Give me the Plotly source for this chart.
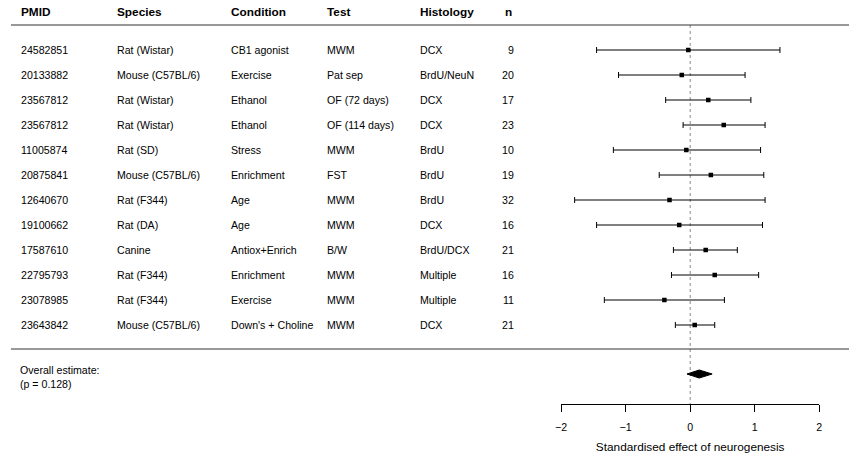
import plotly.graph_objects as go

# ---- data ----
pmid = ["24582851", "20133882", "23567812", "23567812", "11005874", "20875841",
        "12640670", "19100662", "17587610", "22795793", "23078985", "23643842"]
species = ["Rat (Wistar)", "Mouse (C57BL/6)", "Rat (Wistar)", "Rat (Wistar)", "Rat (SD)",
           "Mouse (C57BL/6)", "Rat (F344)", "Rat (DA)", "Canine", "Rat (F344)",
           "Rat (F344)", "Mouse (C57BL/6)"]
condition = ["CB1 agonist", "Exercise", "Ethanol", "Ethanol", "Stress", "Enrichment",
             "Age", "Age", "Antiox+Enrich", "Enrichment", "Exercise", "Down's + Choline"]
test = ["MWM", "Pat sep", "OF (72 days)", "OF (114 days)", "MWM", "FST",
        "MWM", "MWM", "B/W", "MWM", "MWM", "MWM"]
histology = ["DCX", "BrdU/NeuN", "DCX", "DCX", "BrdU", "BrdU",
             "BrdU", "DCX", "BrdU/DCX", "Multiple", "Multiple", "DCX"]
n = [9, 20, 17, 23, 10, 19, 32, 16, 21, 16, 11, 21]
est = [-0.03, -0.13, 0.28, 0.52, -0.06, 0.32, -0.32, -0.17, 0.24, 0.38, -0.40, 0.07]
lo = [-1.45, -1.11, -0.38, -0.11, -1.19, -0.48, -1.79, -1.45, -0.26, -0.29, -1.33, -0.23]
hi = [1.39, 0.85, 0.94, 1.16, 1.09, 1.14, 1.16, 1.12, 0.73, 1.06, 0.53, 0.38]
overall_est, overall_lo, overall_hi = 0.14, -0.05, 0.34
overall_p = 0.128
headers = ["PMID", "Species", "Condition", "Test", "Histology", "n"]
tick_vals = [-2, -1, 0, 1, 2]
tick_text = ["\u22122", "\u22121", "0", "1", "2"]
x_title = "Standardised effect of neurogenesis"

# ---- layout helpers ----
W, H = 852, 454
ROW_PX = 25.0
TOP_PX = 25.0  # header rule position
rows = list(range(1, len(pmid) + 1))
overall_row = len(pmid) + 2 - 0.04
y_top = -TOP_PX / ROW_PX
y_bot = (H - TOP_PX) / ROW_PX
axis_px = 404
axis_row = (axis_px - TOP_PX) / ROW_PX
x0_px, x1_px = 561, 822

FONT = "Liberation Sans, Arial, Helvetica, sans-serif"
col_x = [13, 110, 225, 322, 416, 502]

fig = go.Figure()

# study estimates with CIs
fig.add_trace(go.Scatter(
    x=est, y=rows, mode="markers",
    marker=dict(symbol="square", size=4.5, color="black"),
    error_x=dict(type="data", symmetric=False,
                 array=[h - e for h, e in zip(hi, est)],
                 arrayminus=[e - l for e, l in zip(est, lo)],
                 color="black", thickness=1, width=3),
    showlegend=False, hoverinfo="skip"))

# overall diamond
dh = 0.16
fig.add_trace(go.Scatter(
    x=[overall_lo, overall_est, overall_hi, overall_est, overall_lo],
    y=[overall_row, overall_row - dh, overall_row, overall_row + dh, overall_row],
    mode="lines", fill="toself", fillcolor="black",
    line=dict(color="black", width=1), showlegend=False, hoverinfo="skip"))

shapes = [
    dict(type="line", xref="paper", yref="y", x0=5 / W, x1=1, y0=0, y1=0,
         line=dict(color="#333", width=1)),
    dict(type="line", xref="paper", yref="y", x0=5 / W, x1=1,
         y0=len(pmid) + 0.96, y1=len(pmid) + 0.96,
         line=dict(color="#333", width=1)),
    dict(type="line", xref="x", yref="y", x0=0, x1=0, y0=0, y1=axis_row,
         line=dict(color="#888", width=1, dash="dot"), layer="below"),
]

annotations = []
for cx, htxt in zip(col_x, headers):
    annotations.append(dict(xref="paper", yref="y", x=cx / W, y=-0.52, text="<b>%s</b>" % htxt,
                            showarrow=False, xanchor="left", yanchor="middle",
                            font=dict(family=FONT, size=11.8, color="black")))
cols = [pmid, species, condition, test, histology]
for cx, col in zip(col_x[:5], cols):
    for r, v in zip(rows, col):
        annotations.append(dict(xref="paper", yref="y", x=cx / W, y=r, text=v,
                                showarrow=False, xanchor="left", yanchor="middle",
                                font=dict(family=FONT, size=10.6, color="black")))
for r, v in zip(rows, n):
    annotations.append(dict(xref="paper", yref="y", x=515 / W, y=r, text=str(v),
                            showarrow=False, xanchor="right", yanchor="middle",
                            font=dict(family=FONT, size=10.6, color="black")))
annotations.append(dict(xref="paper", yref="y", x=12 / W, y=overall_row + 0.1,
                        text="Overall estimate:<br>(p = %.3f)" % overall_p,
                        showarrow=False, xanchor="left", yanchor="middle", align="left",
                        font=dict(family=FONT, size=10.6, color="black")))

fig.update_layout(
    width=W, height=H, margin=dict(l=0, r=0, t=0, b=0),
    paper_bgcolor="white", plot_bgcolor="white",
    shapes=shapes, annotations=annotations,
    xaxis=dict(domain=[x0_px / W, x1_px / W], range=[-2, 2],
               anchor="free", position=1 - axis_px / H,
               showgrid=False, zeroline=False, showline=True, linecolor="black", linewidth=1,
               ticks="outside", ticklen=7, tickcolor="black", tickwidth=1,
               tickvals=tick_vals, ticktext=tick_text, ticklabelstandoff=6,
               tickfont=dict(family=FONT, size=10.6, color="black"),
               title=dict(text=x_title, standoff=11,
                          font=dict(family=FONT, size=11.8, color="black"))),
    yaxis=dict(domain=[0, 1], range=[y_bot, y_top], visible=False),
    font=dict(family=FONT),
)

fig.write_html("out.html", config={"displayModeBar": False},
               post_script="document.body.style.margin='0px';document.body.style.padding='0px';")
